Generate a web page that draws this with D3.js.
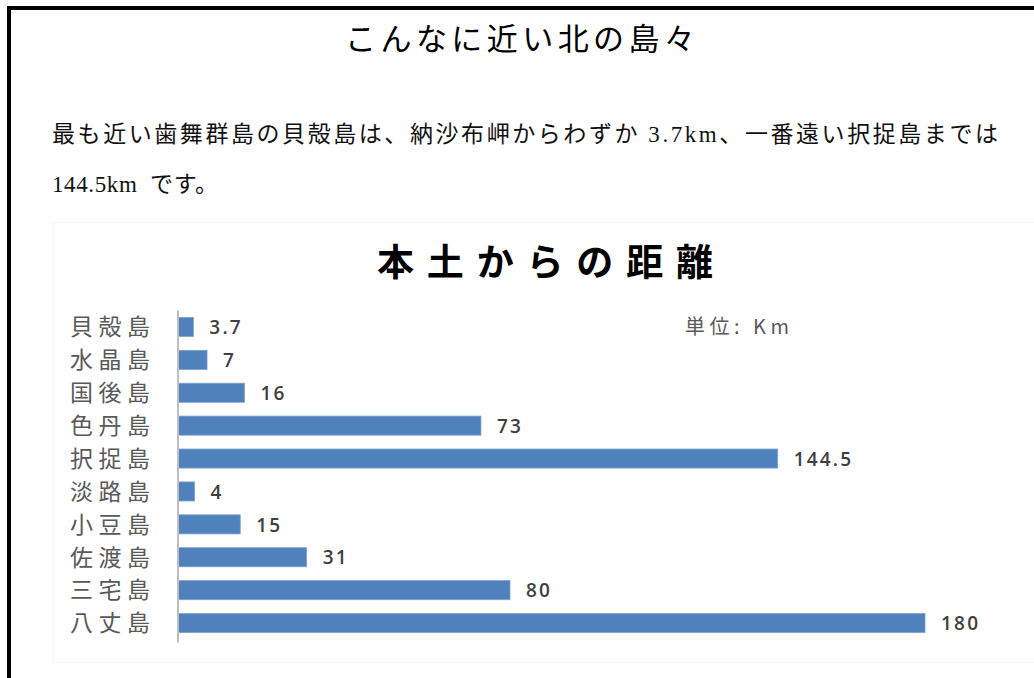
<!DOCTYPE html>
<html>
<head>
<meta charset="utf-8">
<script src="https://cdn.jsdelivr.net/npm/d3@7"></script>
<style>
  html, body { margin: 0; padding: 0; background: #fff; }
  svg { display: block; }
</style>
</head>
<body>
<svg id="page" width="1034" height="678"></svg>
<script>
// data
var islands = ['貝殻島', '水晶島', '国後島', '色丹島', '択捉島', '淡路島', '小豆島', '佐渡島', '三宅島', '八丈島'];
var distances = [3.7, 7, 16, 73, 144.5, 4, 15, 31, 80, 180];
var valueLabels = ['3.7', '7', '16', '73', '144.5', '4', '15', '31', '80', '180'];

var pageTitle = 'こんなに近い北の島々';
var paraLines = ['最も近い歯舞群島の貝殻島は、納沙布岬からわずか 3.7km、一番遠い択捉島までは', '144.5km  です。'];
var chartTitle = '本土からの距離';
var unitLabel = '単位: Km';

// layout
var sansJP = '"Noto Sans CJK JP", "Noto Sans", sans-serif';
var serifJP = '"Liberation Serif", "DejaVu Serif", "Noto Sans CJK JP", serif';
var barColor = '#4f81bd';
var axisLeftX = 178;
var plotRight = 925;
var plotTop = 310.5;
var plotBottom = 639.5;

var svg = d3.select('#page');

// frame (top + left edges of an outer box)
svg.append('path')
	.attr('d', 'M9,700 L9,8 L1040,8')
	.attr('fill', 'none')
	.attr('stroke', '#000')
	.attr('stroke-width', 4);

svg.append('text')
	.attr('x', 345).attr('y', 50)
	.attr('textLength', 350)
	.attr('lengthAdjust', 'spacing')
	.style('font-family', sansJP)
	.style('font-size', '31px')
	.style('fill', '#000')
	.text(pageTitle);

var paraWidths = [946, 166];
svg.selectAll('text.para')
	.data(paraLines)
	.enter().append('text')
	.attr('class', 'para')
	.attr('x', 52)
	.attr('y', function(d, i) { return 142 + i*50; })
	.attr('textLength', function(d, i) { return paraWidths[i]; })
	.attr('lengthAdjust', 'spacing')
	.style('font-family', serifJP)
	.style('font-size', '23px')
	.style('fill', '#111')
	.style('white-space', 'pre')
	.text(function(d) { return d; });

// chart area
svg.append('rect')
	.attr('x', 52.5).attr('y', 222.5)
	.attr('width', 990).attr('height', 440)
	.attr('fill', '#fff')
	.attr('stroke', '#f5f5f5');

svg.append('text')
	.attr('x', 377).attr('y', 276)
	.attr('textLength', 336)
	.attr('lengthAdjust', 'spacing')
	.style('font-family', sansJP)
	.style('font-weight', 'bold')
	.style('font-size', '37px')
	.style('fill', '#000')
	.text(chartTitle);

var x = d3.scaleLinear()
	.domain([0, d3.max(distances)])
	.range([axisLeftX, plotRight]);

var y = d3.scaleBand()
	.domain(islands)
	.range([plotTop, plotBottom])
	.paddingInner(0.42)
	.paddingOuter(0.21);

var bars = islands.map(function(name, i) {
	return { name: name, value: distances[i], label: valueLabels[i] };
});

svg.selectAll('rect.bar')
	.data(bars)
	.enter().append('rect')
	.attr('class', 'bar')
	.attr('x', x(0))
	.attr('y', function(d) { return y(d.name); })
	.attr('width', function(d) { return x(d.value) - x(0); })
	.attr('height', y.bandwidth())
	.attr('fill', barColor)
	.attr('stroke', '#7ea3cf')
	.attr('stroke-width', 0.8);

svg.selectAll('text.value')
	.data(bars)
	.enter().append('text')
	.attr('class', 'value')
	.attr('x', function(d) { return x(d.value) + 16; })
	.attr('y', function(d) { return y(d.name) + y.bandwidth()/2; })
	.attr('dy', '0.38em')
	.style('font-family', '"Open Sans", "Noto Sans", sans-serif')
	.style('font-weight', '600')
	.style('font-size', '19px')
	.style('letter-spacing', '2.2px')
	.style('fill', '#404040')
	.text(function(d) { return d.label; });

var yAxis = svg.append('g')
	.attr('transform', 'translate(' + axisLeftX + ',0)')
	.call(d3.axisLeft(y).tickSize(0).tickPadding(28));
yAxis.select('.domain')
	.attr('d', 'M0,' + plotTop + 'V' + (plotBottom + 3))
	.attr('stroke', '#bfbfbf')
	.attr('stroke-width', 2);
yAxis.selectAll('text')
	.attr('dy', '0.36em')
	.attr('textLength', 80)
	.attr('lengthAdjust', 'spacing')
	.style('font-family', sansJP)
	.style('font-size', '23px')
	.style('fill', '#595959');

svg.append('text')
	.attr('x', 685).attr('y', 334)
	.attr('textLength', 104)
	.attr('lengthAdjust', 'spacing')
	.style('font-family', sansJP)
	.style('font-size', '20px')
	.style('fill', '#595959')
	.text(unitLabel);
</script>
</body>
</html>
